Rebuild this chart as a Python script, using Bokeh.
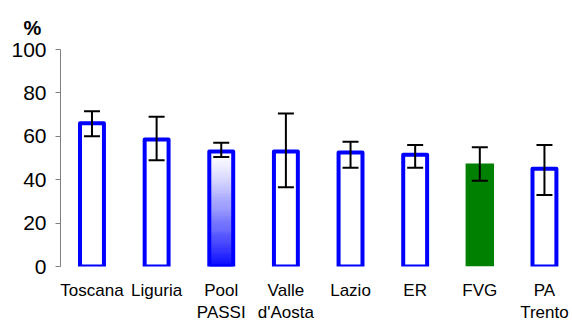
from bokeh.plotting import figure
from bokeh.models import Range1d, FixedTicker, Whisker, TeeHead, ColumnDataSource
from bokeh.embed import file_html
from bokeh.resources import INLINE

categories = ["Toscana", "Liguria", "Pool\nPASSI", "Valle\nd'Aosta", "Lazio", "ER", "FVG", "PA\nTrento"]
values = [66, 58.5, 53, 53, 52.5, 51.5, 47.5, 45]
lower = [60, 49, 50.5, 36.5, 45.5, 45.5, 39.5, 33]
upper = [71.5, 69, 57, 70.5, 57.5, 56, 55, 56]
y_ticks = [0, 20, 40, 60, 80, 100]

FONT = "Liberation Sans"
xs = list(range(len(categories)))

p = figure(frame_width=512, frame_height=217, output_backend="svg", toolbar_location=None,
           x_range=Range1d(-0.487, 7.434), y_range=Range1d(0, 100))
p.min_border_left = 60
p.min_border_right = 0
p.min_border_top = 49
p.min_border_bottom = 58
p.outline_line_color = None
p.xgrid.visible = False
p.ygrid.visible = False
p.background_fill_color = "white"
p.border_fill_color = "white"

p.title.text = "%"
p.title.align = "left"
p.title.offset = -37
p.title.text_font = FONT
p.title.text_font_size = "20px"
p.title.text_font_style = "bold"
p.title.text_color = "black"
p.title.standoff = 21

# outline bars (all except pool & FVG)
out_idx = [i for i, c in enumerate(categories) if c not in ("Pool\nPASSI", "FVG")]
src_out = ColumnDataSource(dict(x=[xs[i] for i in out_idx], top=[values[i] for i in out_idx]))
p.vbar(x="x", top="top", bottom=0, width=0.37, source=src_out, fill_color="white",
       line_color="#0000FF", line_width=4, line_join="round")

# gradient pool bar: nested quads, transmission profile white (top) -> blue (bottom)
pi = categories.index("Pool\nPASSI")
N = 50
top = values[pi]
def target_alpha(f):
    return 0.9 * (1 - f) ** 1.3
T = [1 - target_alpha((j + 0.5) / N) for j in range(N)] + [1.0]
alphas = [1 - T[j] / T[j + 1] for j in range(N)]
tops = [top * (k + 1) / N for k in range(N)]
p.quad(left=[xs[pi] - 0.185] * N, right=[xs[pi] + 0.185] * N, bottom=[0] * N, top=tops,
       fill_color="#0000FF", fill_alpha=alphas, line_color=None)
p.vbar(x=[xs[pi]], top=[top], bottom=0, width=0.37, fill_color=None,
       line_color="#0000FF", line_width=4, line_join="round")

# green FVG bar
fi = categories.index("FVG")
p.vbar(x=[xs[fi]], top=[values[fi]], bottom=0, width=0.44, fill_color="#008000", line_color=None)

# error bars
src_err = ColumnDataSource(dict(base=xs, lower=lower, upper=upper))
w = Whisker(base="base", lower="lower", upper="upper", source=src_err,
            line_color="black", line_width=2, level="overlay",
            upper_head=TeeHead(size=16, line_color="black", line_width=2),
            lower_head=TeeHead(size=16, line_color="black", line_width=2))
p.add_layout(w)

# y axis
ya = p.yaxis[0]
ya.ticker = FixedTicker(ticks=y_ticks)
ya.axis_line_color = "#808080"
ya.major_tick_line_color = "#808080"
ya.major_tick_in = 0
ya.major_tick_out = 5
ya.minor_tick_line_color = None
ya.major_label_text_font = FONT
ya.major_label_text_font_size = "21px"
ya.major_label_text_color = "black"
ya.major_label_standoff = 9

# x axis
xa = p.xaxis[0]
xa.ticker = FixedTicker(ticks=xs)
xa.major_label_overrides = {i: c for i, c in zip(xs, categories)}
xa.axis_line_color = None
xa.major_tick_line_color = None
xa.minor_tick_line_color = None
xa.major_label_text_font = FONT
xa.major_label_text_font_size = "17px"
xa.major_label_text_color = "black"
xa.major_label_standoff = 8

open("out.html", "w").write(file_html(p, INLINE))
